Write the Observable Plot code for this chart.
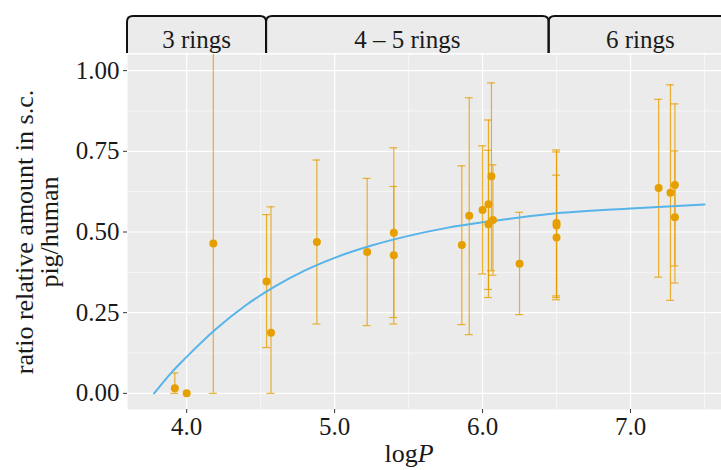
<!DOCTYPE html>
<html><head><meta charset="utf-8">
<script src="https://cdn.jsdelivr.net/npm/d3@7"></script>
<script src="https://cdn.jsdelivr.net/npm/@observablehq/plot@0.6"></script>
<style>
html,body{margin:0;padding:0;background:#fff;overflow:hidden}
</style></head><body><div id="chart"></div>
<script>
const logP  = [3.92, 4.00, 4.18, 4.54, 4.57, 4.88, 5.22, 5.40, 5.40, 5.86, 5.91, 6.00, 6.04, 6.04, 6.06, 6.07, 6.25, 6.50, 6.50, 6.50, 7.19, 7.27, 7.30, 7.30];
const ratio = [0.016, 0.000, 0.464, 0.347, 0.188, 0.469, 0.438, 0.498, 0.428, 0.460, 0.550, 0.568, 0.586, 0.524, 0.673, 0.537, 0.402, 0.528, 0.520, 0.483, 0.636, 0.622, 0.646, 0.546];
const lower = [0.000, null, 0.000, 0.142, 0.000, 0.215, 0.210, 0.235, 0.215, 0.213, 0.182, 0.370, 0.322, 0.297, 0.380, 0.366, 0.244, 0.302, 0.290, 0.297, 0.360, 0.288, 0.395, 0.342];
const upper = [0.063, null, 1.200, 0.554, 0.578, 0.723, 0.666, 0.761, 0.641, 0.705, 0.916, 0.767, 0.847, 0.753, 0.962, 0.708, 0.561, 0.754, 0.748, 0.676, 0.911, 0.956, 0.897, 0.751];

// Fitted curve
const fitX = [3.78, 3.9, 4.0, 4.2, 4.4, 4.6, 4.8, 5.0, 5.25, 5.5, 5.75, 6.0, 6.25, 6.5, 7.0, 7.5];
const fitY = [0.000, 0.066, 0.113, 0.200, 0.273, 0.332, 0.381, 0.420, 0.458, 0.488, 0.512, 0.530, 0.545, 0.558, 0.573, 0.585];

// Ring groups (strip above the panel)
const ringLabels = ["3 rings", "4 \u2013 5 rings", "6 rings"];
const ringStart  = [3.6, 4.54, 6.45];
const ringEnd    = [4.54, 6.45, 7.69];

// Axis ticks
const xTicks = [4, 5, 6, 7];
const xMinor = [3.5, 4.5, 5.5, 6.5, 7.5];
const yTicks = [0, 0.25, 0.5, 0.75, 1];
const yMinor = [0.125, 0.375, 0.625, 0.875];

const ORANGE = "#E69F00", BLUE = "#56B4E9";
const FONT = "'Liberation Serif', 'Times New Roman', serif";
const capHalf = 0.027;

const data = logP.map((x, i) => ({x, y: ratio[i], lo: lower[i], hi: upper[i]}));
const bars = data.filter(d => d.lo != null);
const fit = fitX.map((x, i) => ({x, y: fitY[i]}));

const plot = Plot.plot({
  width: 721, height: 470,
  marginLeft: 127, marginRight: 0, marginTop: 54, marginBottom: 61,
  style: {fontFamily: FONT, fontSize: "25px", background: "white", color: "#1a1a1a", overflow: "visible"},
  x: {domain: [3.6, 7.615]},
  y: {domain: [-0.05, 1.05]},
  marks: [
    Plot.frame({fill: "#EBEBEB", stroke: null}),
    Plot.gridX(xMinor, {stroke: "white", strokeOpacity: 1, strokeWidth: 0.6}),
    Plot.gridY(yMinor, {stroke: "white", strokeOpacity: 1, strokeWidth: 0.6}),
    Plot.gridX(xTicks, {stroke: "white", strokeOpacity: 1, strokeWidth: 1.2}),
    Plot.gridY(yTicks, {stroke: "white", strokeOpacity: 1, strokeWidth: 1.2}),
    Plot.axisX(xTicks, {tickFormat: d => d.toFixed(1), tickSize: 4, tickPadding: 4, label: null, stroke: "#333"}),
    Plot.axisY(yTicks, {tickFormat: d => d.toFixed(2), tickSize: 4, tickPadding: 4, label: null, stroke: "#333"}),
    Plot.ruleX(bars, {x: "x", y1: "lo", y2: "hi", stroke: ORANGE, strokeOpacity: 0.8, strokeWidth: 1.2, clip: true}),
    Plot.ruleY(bars, {y: "lo", x1: d => d.x - capHalf, x2: d => d.x + capHalf, stroke: ORANGE, strokeOpacity: 0.8, strokeWidth: 1.2, clip: true}),
    Plot.ruleY(bars, {y: "hi", x1: d => d.x - capHalf, x2: d => d.x + capHalf, stroke: ORANGE, strokeOpacity: 0.8, strokeWidth: 1.2, clip: true}),
    Plot.line(fit, {x: "x", y: "y", stroke: BLUE, strokeWidth: 2, curve: "monotone-x"}),
    Plot.dot(data, {x: "x", y: "y", r: 4, fill: ORANGE, stroke: null})
  ]
});

const svg = d3.select(plot);
const xs = plot.scale("x");

// Strip with brackets
const strip = svg.append("g");
strip.append("rect")
  .attr("x", xs.apply(3.6)).attr("y", 16)
  .attr("width", xs.apply(7.69) - xs.apply(3.6)).attr("height", 37)
  .attr("fill", "#EBEBEB");
ringLabels.forEach((lab, i) => {
  const a = xs.apply(ringStart[i]), b = xs.apply(ringEnd[i]);
  strip.append("path")
    .attr("d", `M${a},53 L${a},22 Q${a},16 ${a + 6},16 L${b - 6},16 Q${b},16 ${b},22 L${b},53`)
    .attr("fill", "none").attr("stroke", "#111").attr("stroke-width", 2);
  strip.append("text")
    .attr("x", (a + b) / 2).attr("y", 47.5)
    .attr("text-anchor", "middle")
    .attr("font-family", FONT).attr("font-size", 25).attr("fill", "#1a1a1a")
    .text(lab);
});

// Y axis title (two lines)
[["ratio relative amount in s.c.", 33], ["pig/human", 58]].forEach(([t, x]) => {
  svg.append("text")
    .attr("transform", `translate(${x},232) rotate(-90)`)
    .attr("text-anchor", "middle")
    .attr("font-family", FONT).attr("font-size", 26).attr("fill", "#1a1a1a")
    .text(t);
});

// X axis title
const xt = svg.append("text")
  .attr("x", 409).attr("y", 461.5)
  .attr("text-anchor", "middle")
  .attr("font-family", FONT).attr("font-size", 26).attr("fill", "#1a1a1a");
xt.append("tspan").text("log");
xt.append("tspan").attr("font-style", "italic").text("P");

document.getElementById("chart").append(plot);
</script>
</body></html>
